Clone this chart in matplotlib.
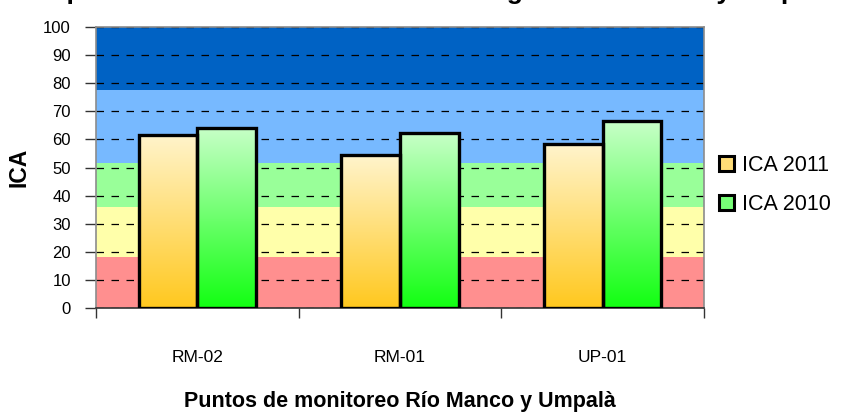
import matplotlib
matplotlib.use("Agg")
import matplotlib.pyplot as plt
import numpy as np
from matplotlib.patches import Patch
from matplotlib.colors import LinearSegmentedColormap

categories = ["RM-02", "RM-01", "UP-01"]
ica_2011 = [61.6, 54.4, 58.2]
ica_2010 = [64.2, 62.4, 66.7]
series_names = ["ICA 2011", "ICA 2010"]
band_edges = [0, 18, 36, 51.5, 77.5, 100]
band_colors = ["#FF8F8F", "#FFFFAA", "#99FF99", "#77B9FF", "#0062C4"]
yticks = list(range(0, 101, 10))
title_text = "Comportamiento Indice de Calidad de Agua Ríos Manco y Umpalà"

plt.rcParams['font.family'] = ['Liberation Sans', 'DejaVu Sans']

W, H = 841, 412
fig = plt.figure(figsize=(W / 100, H / 100), dpi=100)
ax = fig.add_axes([96 / W, 1 - 308 / H, (704 - 96) / W, (308 - 27) / H])

# background bands
for lo, hi, c in zip(band_edges[:-1], band_edges[1:], band_colors):
    ax.axhspan(lo, hi, color=c, zorder=0.1, lw=0)

ax.set_ylim(0, 100)
ax.set_xlim(-0.5, len(categories) - 0.5)
ax.set_yticks(yticks)
ax.grid(axis='y', color='black', linestyle=(0, (6, 6)), lw=0.9, zorder=0.5)
ax.set_axisbelow(True)

x = np.arange(len(categories))
bw = 0.29
cmap11 = LinearSegmentedColormap.from_list("c11", ["#FFC81E", "#FFF4CC"])
cmap10 = LinearSegmentedColormap.from_list("c10", ["#12FF12", "#C8FFC8"])
grad = np.linspace(0, 1, 256).reshape(-1, 1)

for vals, off, cm in [(ica_2011, -bw / 2, cmap11), (ica_2010, bw / 2, cmap10)]:
    bars = ax.bar(x + off, vals, width=bw, fill=False, edgecolor='black', lw=2.4, zorder=3)
    for b in bars:
        bx, by, bwid, bh = b.get_x(), b.get_y(), b.get_width(), b.get_height()
        ax.imshow(grad, cmap=cm, origin='lower', aspect='auto',
                  extent=[bx, bx + bwid, by, by + bh], zorder=2)
ax.set_xlim(-0.5, len(categories) - 0.5)
ax.set_ylim(0, 100)

# ticks
ax.set_xticks([-0.5, 0.5, 1.5, 2.5])
ax.set_xticklabels([])
ax.set_xticks(x, minor=True)
ax.set_xticklabels(categories, minor=True, fontsize=12.5)
ax.tick_params(axis='x', which='major', direction='out', length=7, width=1, color='#333333')
ax.tick_params(axis='x', which='minor', length=0, pad=30)
ax.tick_params(axis='y', direction='out', length=8, width=1, color='#333333', labelsize=12, pad=10)

for s in ['left', 'top', 'right']:
    ax.spines[s].set_color('#8C8C8C')
    ax.spines[s].set_linewidth(1.2)
ax.spines['bottom'].set_color('#333333')
ax.spines['bottom'].set_linewidth(1.2)

ax.set_ylabel("ICA", fontsize=16.5, fontweight='bold', labelpad=9)
ax.set_xlabel("Puntos de monitoreo Río Manco y Umpalà", fontsize=15.5, fontweight='bold', labelpad=19)

handles = [Patch(facecolor="#FFDD77", edgecolor='black', lw=2.2),
           Patch(facecolor="#77FF77", edgecolor='black', lw=2.2)]
fig.legend(handles, series_names, loc='center left', bbox_to_anchor=(700 / W, 1 - 185 / H),
           frameon=False, fontsize=15.5, handlelength=0.7, handleheight=0.7,
           handletextpad=0.35, labelspacing=0.85)

fig.text(0.5, 1 + 1.5 / H, title_text, ha='center', va='baseline', fontsize=19, fontweight='bold')

fig.savefig("out.png", dpi=100)
